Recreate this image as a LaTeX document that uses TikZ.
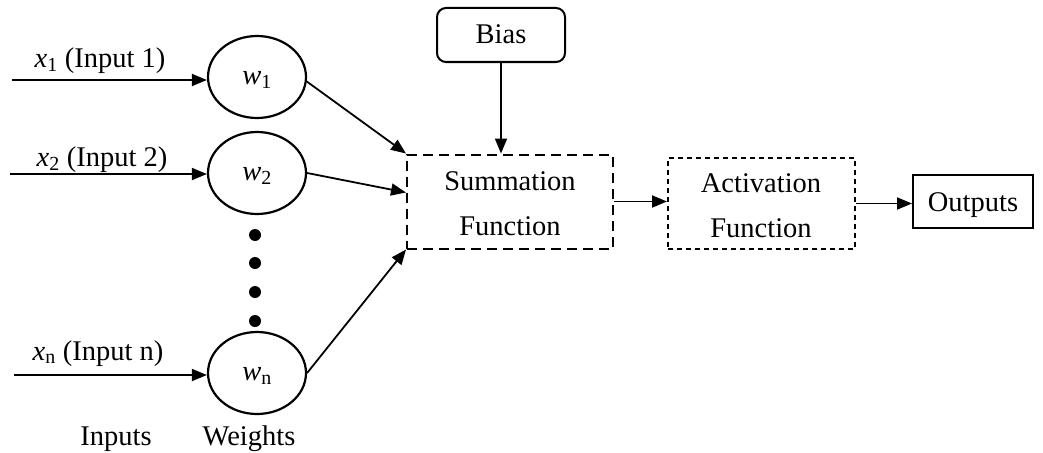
\documentclass[tikz,border=0pt]{standalone}
\usepackage{fontspec}
\setmainfont{Liberation Serif}
\usetikzlibrary{arrows.meta,shapes.geometric,calc}
\begin{document}
\begin{tikzpicture}[x=1pt,y=-1pt,
  txt/.style={inner sep=0pt,font=\fontsize{28.5}{32}\selectfont},
  arr/.style={line width=1.8pt,-{Triangle[length=15pt,width=12pt]}},
  weight/.style={draw,line width=2.2pt,ellipse,minimum width=98pt,minimum height=82pt,inner sep=0pt},
  sumbox/.style={draw,line width=2pt,dash pattern=on 10pt off 6pt,minimum width=206pt,minimum height=94pt,inner sep=0pt},
  actbox/.style={draw,line width=2pt,dash pattern=on 5pt off 4pt,minimum width=187pt,minimum height=91pt,inner sep=0pt},
  biasbox/.style={draw,line width=2pt,rounded corners=9pt,minimum width=128pt,minimum height=54pt,inner sep=0pt},
  outbox/.style={draw,line width=2pt,minimum width=120pt,minimum height=53pt,inner sep=0pt},
  dot/.style={circle,fill,inner sep=0pt,minimum size=12pt}
]
\useasboundingbox (0,0) rectangle (1043,452);
% weights
\node[weight] (w1) at (257,77) {};
\node[weight] (w2) at (257,173) {};
\node[weight] (wn) at (257,373) {};
\node[txt] (w1t) at (257,80) {\textit{w}\textsubscript{1}};
\node[txt] (w2t) at (257,176) {\textit{w}\textsubscript{2}};
\node[txt] (wnt) at (257,376) {\textit{w}\textsubscript{n}};
% dots
\node[dot] (d1) at (255,235) {};
\node[dot] (d2) at (255,263) {};
\node[dot] (d3) at (255,292) {};
\node[dot] (d4) at (255,321) {};
% inputs
\coordinate (i1) at (12,80);
\coordinate (i2) at (10,174);
\coordinate (in) at (14,375);
\draw[arr] (i1) -- (i1 -| w1.west);
\draw[arr] (i2) -- (i2 -| w2.west);
\draw[arr] (in) -- (in -| wn.west);
\node[txt,anchor=base] (l1) at (100,67) {\textit{x}\textsubscript{1} (Input 1)};
\node[txt,anchor=base] (l2) at (102,166) {\textit{x}\textsubscript{2} (Input 2)};
\node[txt,anchor=base] (ln) at (98,360) {\textit{x}\textsubscript{n} (Input n)};
\node[txt,anchor=base] (inputs) at (116,445) {Inputs};
\node[txt,anchor=base] (weights) at (249,445) {Weights};
% bias
\node[biasbox] (bias) at (501,35) {};
\node[txt,anchor=base] (biast) at (501,44) {Bias};
% summation
\node[sumbox] (sum) at (510,201.5) {};
\node[txt,anchor=base] (sum1) at (510,190) {Summation};
\node[txt,anchor=base] (sum2) at (510,235) {Function};
% activation
\node[actbox] (act) at (761.5,203.5) {};
\node[txt,anchor=base] (act1) at (761,192) {Activation};
\node[txt,anchor=base] (act2) at (761,237) {Function};
% outputs
\node[outbox] (out) at (973,201.5) {};
\node[txt,anchor=base] (outt) at (973,211) {Outputs};
% connectors
\draw[arr] (bias.south) -- (bias.south |- sum.north);
\draw[arr] ($(w1.east)+(-1,4)$) -- (sum.north west);
\draw[arr] (w2.east) -- ($(sum.west)+(0,-9)$);
\draw[arr] (wn.east) -- (sum.south west);
\draw[arr] (sum.east) -- (sum.east -| act.west);
\draw[arr] (act.east) -- (act.east -| out.west);
\end{tikzpicture}
\end{document}
